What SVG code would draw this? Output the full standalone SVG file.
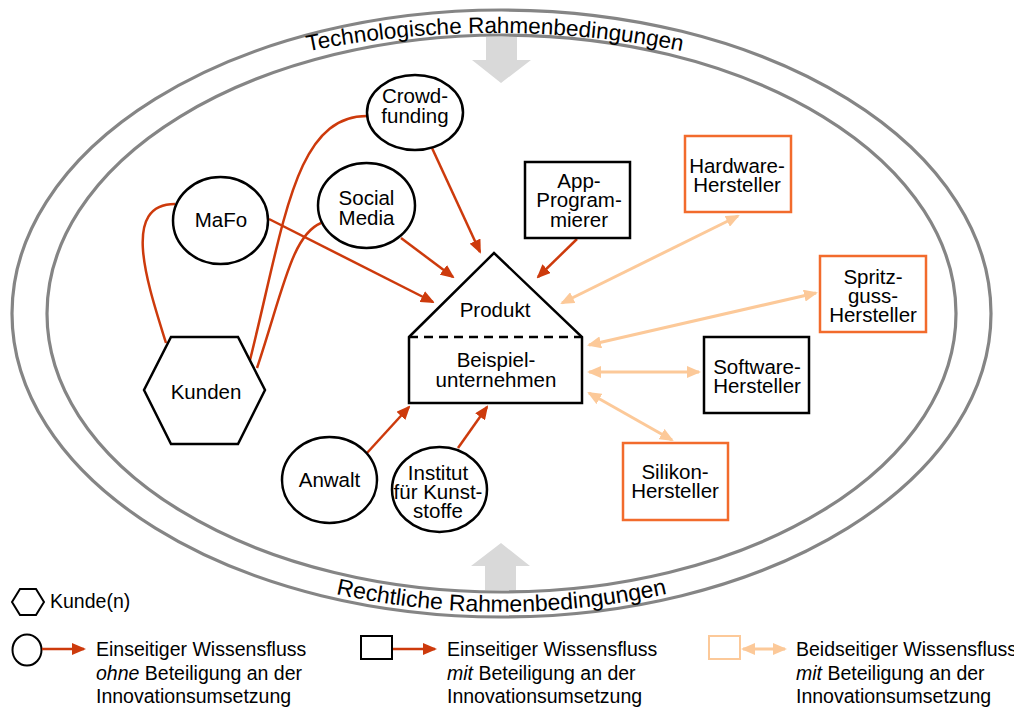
<svg xmlns="http://www.w3.org/2000/svg" width="1014" height="709" viewBox="0 0 1014 709">
<style>
text{font-family:"Liberation Sans",Arial,Helvetica,sans-serif;fill:#000}
.n{font-size:20.5px;text-anchor:middle}
.lg{font-size:19.5px}
.ring{fill:none;stroke:#858585;stroke-width:3.2}
.blk{fill:#fff;stroke:#000;stroke-width:2.5}
.org{fill:#fff;stroke:#f26b2c;stroke-width:2.5}
.red{fill:none;stroke:#cd3a0c;stroke-width:2.5}
.lt{fill:none;stroke:#fcc999;stroke-width:3}
.garrow{fill:#d9d9d9}
</style>
<defs>
<marker id="ar" markerUnits="userSpaceOnUse" markerWidth="14" markerHeight="12" refX="12" refY="6" orient="auto"><path d="M0,0 L14,6 L0,12 z" fill="#cd3a0c"/></marker>
<marker id="al" markerUnits="userSpaceOnUse" markerWidth="14" markerHeight="12" refX="12" refY="6" orient="auto-start-reverse"><path d="M0,0 L14,6 L0,12 z" fill="#fcc999"/></marker>
<path id="topArc" d="M-33,314 A528,281 0 0 1 1023,314"/>
<path id="botArc" d="M17.5,313 A484,299 0 0 0 985.5,313"/>
</defs>

<g id="frame">
<ellipse class="ring" cx="501.5" cy="313.5" rx="489.5" ry="303.5"/>
<ellipse class="ring" cx="501.5" cy="313.5" rx="454.5" ry="278.5"/>
<polygon class="garrow" points="486,37 517,37 517,60 531,60 501,83 472,60 486,60"/>
<polygon class="garrow" points="501,543 530,566 516,566 516,590 485,590 485,566 471,566"/>
<text font-size="22.5" text-anchor="middle"><textPath href="#topArc" startOffset="50%">Technologische Rahmenbedingungen</textPath></text>
<text font-size="23" text-anchor="middle"><textPath href="#botArc" startOffset="50%">Rechtliche Rahmenbedingungen</textPath></text>
</g>

<g id="connectors">
<path class="red" d="M166,343 C148,285 120,204 175,204"/>
<path class="red" d="M250,360 C285,220 295,115 368,116"/>
<path class="red" d="M257,368 C283,290 292,235 321,223"/>
<line class="red" x1="432" y1="148" x2="480" y2="252" marker-end="url(#ar)"/>
<line class="red" x1="401" y1="238" x2="453" y2="277" marker-end="url(#ar)"/>
<line class="red" x1="269" y1="219" x2="433" y2="302" marker-end="url(#ar)"/>
<line class="red" x1="577" y1="239" x2="538" y2="277" marker-end="url(#ar)"/>
<line class="red" x1="367" y1="453" x2="409" y2="407" marker-end="url(#ar)"/>
<line class="red" x1="458" y1="448" x2="487" y2="407" marker-end="url(#ar)"/>
<line class="lt" x1="562" y1="303" x2="738" y2="216" marker-start="url(#al)" marker-end="url(#al)"/>
<line class="lt" x1="589" y1="345" x2="816" y2="293" marker-start="url(#al)" marker-end="url(#al)"/>
<line class="lt" x1="589" y1="372" x2="699" y2="372" marker-start="url(#al)" marker-end="url(#al)"/>
<line class="lt" x1="589" y1="393" x2="672" y2="440" marker-start="url(#al)" marker-end="url(#al)"/>
</g>

<g id="crowdfunding">
<ellipse class="blk" cx="415" cy="112.5" rx="48" ry="37.5"/>
<text class="n" x="415" y="103">Crowd-</text>
<text class="n" x="415" y="123">funding</text>
</g>
<g id="mafo">
<ellipse class="blk" cx="220.5" cy="220.5" rx="47.5" ry="43.5"/>
<text class="n" x="221" y="227">MaFo</text>
</g>
<g id="socialmedia">
<ellipse class="blk" cx="366.5" cy="205.5" rx="48.5" ry="42.5"/>
<text class="n" x="366.5" y="205">Social</text>
<text class="n" x="366.5" y="225">Media</text>
</g>
<g id="kunden">
<polygon class="blk" points="171,337 238,337 265,390 238,444 171,444 144,390"/>
<text class="n" x="206" y="399">Kunden</text>
</g>
<g id="anwalt">
<ellipse class="blk" cx="329.5" cy="480" rx="47.5" ry="43"/>
<text class="n" x="329.5" y="487">Anwalt</text>
</g>
<g id="institut">
<ellipse class="blk" cx="439.5" cy="489.5" rx="47.5" ry="42.5"/>
<text class="n" x="438" y="480">Institut</text>
<text class="n" x="438" y="499">für Kunst-</text>
<text class="n" x="438" y="518">stoffe</text>
</g>
<g id="beispielunternehmen">
<polygon fill="#fff" stroke="#000" stroke-width="2.5" stroke-linejoin="miter" points="409,337 494,253 582,337 582,403 409,403"/>
<line x1="409" y1="337" x2="582" y2="337" stroke="#000" stroke-width="2.5" stroke-dasharray="9,6"/>
<text class="n" x="495" y="317">Produkt</text>
<text class="n" x="496" y="367">Beispiel-</text>
<text class="n" x="496" y="387">unternehmen</text>
</g>
<g id="appprogrammierer">
<rect class="blk" x="525" y="162" width="105" height="76"/>
<text class="n" x="579" y="188">App-</text>
<text class="n" x="579" y="207">Program-</text>
<text class="n" x="579" y="227">mierer</text>
</g>
<g id="hardware">
<rect class="org" x="685" y="136" width="106" height="76"/>
<text class="n" x="737" y="173">Hardware-</text>
<text class="n" x="737" y="192">Hersteller</text>
</g>
<g id="spritzguss">
<rect class="org" x="820" y="256" width="106" height="76"/>
<text class="n" x="873" y="284">Spritz-</text>
<text class="n" x="873" y="303">guss-</text>
<text class="n" x="873" y="322">Hersteller</text>
</g>
<g id="software">
<rect class="blk" x="704" y="337" width="105" height="76"/>
<text class="n" x="757" y="374">Software-</text>
<text class="n" x="757" y="393">Hersteller</text>
</g>
<g id="silikon">
<rect class="org" x="623" y="443" width="105" height="77"/>
<text class="n" x="675" y="479">Silikon-</text>
<text class="n" x="675" y="498">Hersteller</text>
</g>

<g id="legend">
<polygon fill="#fff" stroke="#000" stroke-width="2" points="12,602 20,589 36,589 44,602 36,615 20,615"/>
<text class="lg" x="50" y="608">Kunde(n)</text>
<ellipse fill="#fff" stroke="#000" stroke-width="2" cx="27" cy="650" rx="14.5" ry="15.5"/>
<line class="red" x1="42" y1="649" x2="84" y2="649" marker-end="url(#ar)"/>
<text class="lg" x="96" y="656">Einseitiger Wissensfluss</text>
<text class="lg" x="96" y="680"><tspan font-style="italic">ohne</tspan> Beteiligung an der</text>
<text class="lg" x="96" y="703">Innovationsumsetzung</text>
<rect fill="#fff" stroke="#000" stroke-width="2" x="361" y="636" width="31" height="23"/>
<line class="red" x1="393" y1="649" x2="435" y2="649" marker-end="url(#ar)"/>
<text class="lg" x="447" y="656">Einseitiger Wissensfluss</text>
<text class="lg" x="447" y="680"><tspan font-style="italic">mit</tspan> Beteiligung an der</text>
<text class="lg" x="447" y="703">Innovationsumsetzung</text>
<rect fill="#fff" stroke="#fcc999" stroke-width="2" x="709" y="636" width="31" height="23"/>
<line class="lt" x1="743" y1="649" x2="785" y2="649" marker-start="url(#al)" marker-end="url(#al)"/>
<text class="lg" x="796" y="656">Beidseitiger Wissensfluss</text>
<text class="lg" x="796" y="680"><tspan font-style="italic">mit</tspan> Beteiligung an der</text>
<text class="lg" x="796" y="703">Innovationsumsetzung</text>
</g>
</svg>
